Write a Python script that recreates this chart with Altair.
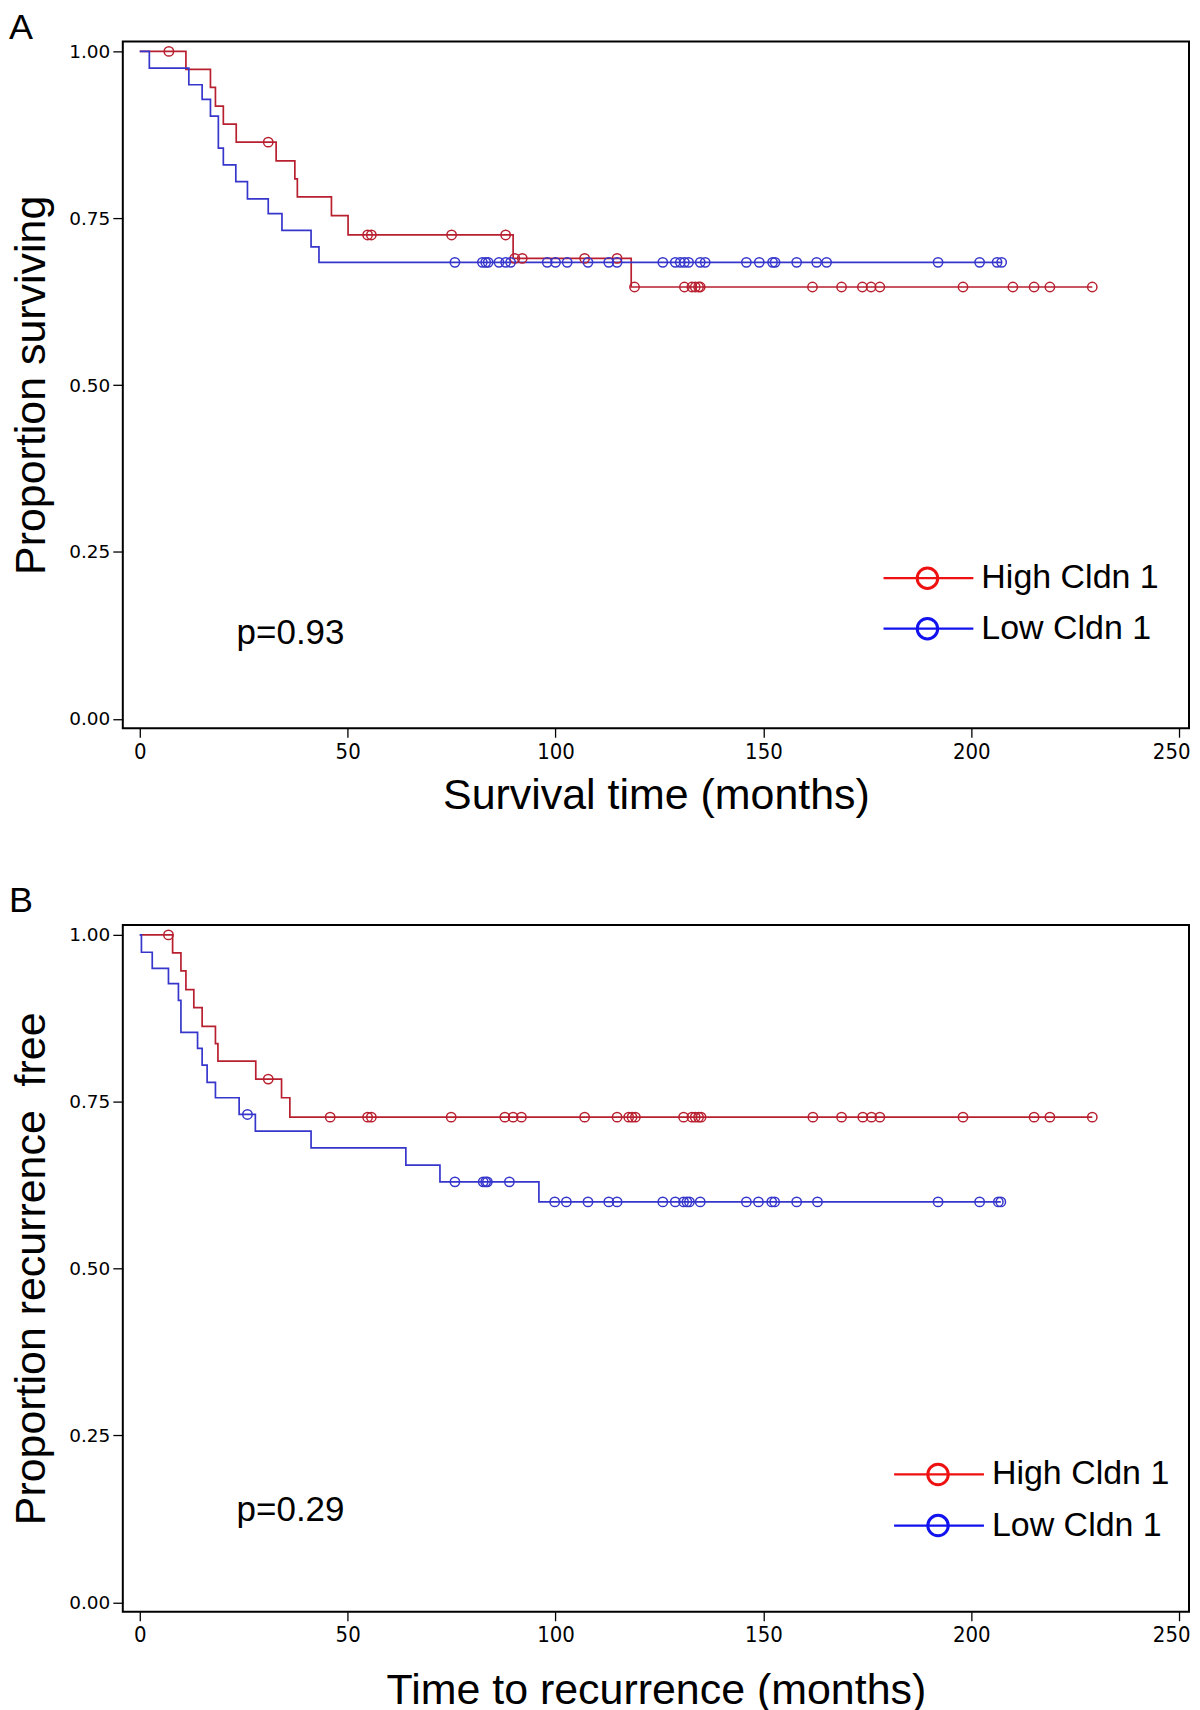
import altair as alt
import pandas as pd

# ---------------- Panel A: overall survival ----------------
a_high_t = [0, 11.1, 17.0, 18.2, 20.1, 23.2, 32.8, 37.3, 37.9, 46.1, 50.1, 89.8, 118.2, 229.1]
a_high_s = [1.0, 0.973, 0.946, 0.918, 0.891, 0.864, 0.836, 0.809, 0.782, 0.754, 0.725, 0.690, 0.647, 0.647]
a_high_cens = [7.0, 30.9, 54.8, 55.7, 75.0, 88.0, 90.2, 92.0, 107.0, 114.8, 119.0, 131.0, 132.8,
               133.6, 134.4, 134.8, 161.8, 168.8, 173.8, 175.9, 178.0, 198.0, 210.0, 215.1, 218.9, 229.1]

a_low_t = [0, 2.3, 11.8, 15.0, 17.0, 18.9, 20.1, 23.1, 25.9, 30.9, 34.2, 41.2, 43.1, 207.3]
a_low_s = [1.0, 0.975, 0.950, 0.928, 0.903, 0.855, 0.830, 0.805, 0.779, 0.757, 0.732, 0.707, 0.684, 0.684]
a_low_cens = [75.8, 82.4, 83.2, 83.8, 86.4, 88.0, 89.2, 98.0, 100.0, 102.8, 107.8, 112.8, 114.8, 125.8,
              128.8, 130.0, 131.0, 132.0, 134.8, 136.0, 145.9, 149.0, 152.2, 152.8, 158.0, 162.8,
              165.2, 192.0, 202.0, 206.2, 207.3]

# ---------------- Panel B: recurrence free ----------------
b_high_t = [0, 7.9, 9.9, 11.1, 13.0, 15.0, 18.2, 18.8, 27.9, 34.1, 36.1, 229.1]
b_high_s = [1.0, 0.973, 0.946, 0.918, 0.891, 0.863, 0.837, 0.811, 0.784, 0.756, 0.727, 0.727]
b_high_cens = [6.9, 30.9, 45.8, 54.8, 55.7, 74.9, 87.8, 89.8, 91.8, 107.0, 114.8, 117.6, 118.4, 119.2,
               130.8, 132.8, 133.6, 134.4, 135.0, 161.9, 168.8, 173.9, 176.0, 178.0, 198.0, 215.1,
               218.9, 229.1]

b_low_t = [0, 0.4, 3.0, 6.9, 9.3, 9.9, 13.9, 15.0, 16.2, 18.2, 23.9, 27.8, 41.2, 64.0, 72.2, 96.0, 207.1]
b_low_s = [1.0, 0.974, 0.950, 0.927, 0.902, 0.854, 0.830, 0.805, 0.779, 0.756, 0.731, 0.706, 0.681,
           0.655, 0.630, 0.600, 0.600]
b_low_cens = [25.9, 75.8, 82.6, 83.2, 83.6, 88.9, 99.8, 102.6, 107.8, 112.8, 114.8, 125.8, 128.8, 130.8,
              131.6, 132.2, 134.8, 145.9, 148.8, 152.0, 152.7, 158.0, 163.0, 192.0, 202.0, 206.5, 207.1]

groups = ["High Cldn 1", "Low Cldn 1"]
curve_colors = ["#B82030", "#3636CC"]
legend_colors = ["#EE1111", "#1212EE"]
x_ticks = [0, 50, 100, 150, 200, 250]
y_ticks = [0.0, 0.25, 0.5, 0.75, 1.0]

W, H = 1068, 688
PX_PER_MONTH = 4.1647
X_DOMAIN = [-4.08, -4.08 + W / PX_PER_MONTH]
Y_DOMAIN = [-0.014, 1.015]


def level_at(times, surv, t):
    val = surv[0]
    for ti, si in zip(times, surv):
        if ti <= t:
            val = si
    return val


def panel(hi_t, hi_s, hi_c, lo_t, lo_s, lo_c, xtitle, ytitle, letter, letter_y, ptext, p_y,
          leg_x, leg_y, x_title_pad):
    lines = pd.concat([
        pd.DataFrame({"t": hi_t, "s": hi_s, "group": groups[0]}),
        pd.DataFrame({"t": lo_t, "s": lo_s, "group": groups[1]}),
    ])
    cens = pd.concat([
        pd.DataFrame({"t": hi_c, "s": [level_at(hi_t, hi_s, c) for c in hi_c], "group": groups[0]}),
        pd.DataFrame({"t": lo_c, "s": [level_at(lo_t, lo_s, c) for c in lo_c], "group": groups[1]}),
    ])
    xenc = alt.X("t:Q", scale=alt.Scale(domain=X_DOMAIN, nice=False, zero=False),
                 axis=alt.Axis(values=x_ticks, title=xtitle, titlePadding=x_title_pad,
                               labelOffset={"condition": {"test": "datum.value === 250", "value": -8},
                                            "value": 0}))
    yenc = alt.Y("s:Q", scale=alt.Scale(domain=Y_DOMAIN, nice=False, zero=False),
                 axis=alt.Axis(values=y_ticks, format=".2f", title=ytitle))
    cenc = alt.Color("group:N", scale=alt.Scale(domain=groups, range=curve_colors), legend=None)

    line_layer = alt.Chart(lines).mark_line(interpolate="step-after", strokeWidth=1.7).encode(
        x=xenc, y=yenc, color=cenc, detail="group:N")
    cens_layer = alt.Chart(cens).mark_point(shape="circle", filled=False, size=88, strokeWidth=1.5,
                                            opacity=1).encode(x="t:Q", y="s:Q", color=cenc)

    leg = pd.DataFrame({"label": groups, "ly": leg_y, "lc": legend_colors,
                        "ty": [v + 10 for v in leg_y]})
    leg_rule = alt.Chart(leg).mark_rule(strokeWidth=2.2).encode(
        x=alt.value(leg_x), x2=alt.value(leg_x + 90),
        y=alt.Y("ly:Q", scale=None), color=alt.Color("lc:N", scale=None))
    leg_pt = alt.Chart(leg).mark_point(shape="circle", filled=False, size=420, strokeWidth=3,
                                       opacity=1).encode(
        x=alt.value(leg_x + 44), y=alt.Y("ly:Q", scale=None), color=alt.Color("lc:N", scale=None))
    leg_txt = alt.Chart(leg).mark_text(align="left", baseline="alphabetic", font="Liberation Sans",
                                       fontSize=34, color="black").encode(
        x=alt.value(leg_x + 98), y=alt.Y("ty:Q", scale=None), text="label:N")

    ann = pd.DataFrame({"txt": [ptext]})
    p_layer = alt.Chart(ann).mark_text(align="left", baseline="alphabetic", font="Liberation Sans",
                                       fontSize=35, color="black").encode(
        x=alt.value(114), y=alt.value(p_y), text="txt:N")
    lab = pd.DataFrame({"txt": [letter]})
    letter_layer = alt.Chart(lab).mark_text(align="left", baseline="top", font="Liberation Sans",
                                            fontSize=36, color="black").encode(
        x=alt.value(-114), y=alt.value(letter_y), text="txt:N")

    return alt.layer(line_layer, cens_layer, leg_rule, leg_pt, leg_txt, p_layer, letter_layer).properties(
        width=W, height=H)


pa = panel(a_high_t, a_high_s, a_high_cens, a_low_t, a_low_s, a_low_cens,
           "Survival time (months)", "Proportion surviving", "A", -30, "p=0.93", 603.5,
           762, [537.7, 588.3], 12)
pb = panel(b_high_t, b_high_s, b_high_cens, b_low_t, b_low_s, b_low_cens,
           "Time to recurrence (months)", "Proportion recurrence \u00a0free", "B", -41, "p=0.29", 597.4,
           772.6, [550.5, 601.7], 24)

chart = alt.vconcat(pa, pb, spacing=197, bounds="flush").properties(padding=0).configure_view(
    stroke="black", strokeWidth=2
).configure_axis(
    grid=False, domain=False, ticks=True, tickColor="black", tickWidth=1.3,
    labelColor="black", titleColor="black", titleFontWeight="normal",
    titleFont="Liberation Sans", titleFontSize=43
).configure_axisX(
    tickSize=9, labelPadding=4, labelFont="DejaVu Sans Condensed, Liberation Sans", labelFontSize=22
).configure_axisY(
    tickSize=10, labelPadding=3, labelFont="DejaVu Sans", labelFontSize=18.5, titlePadding=15.4
)

chart.save("out.html", embed_options={"renderer": "svg", "actions": False})
